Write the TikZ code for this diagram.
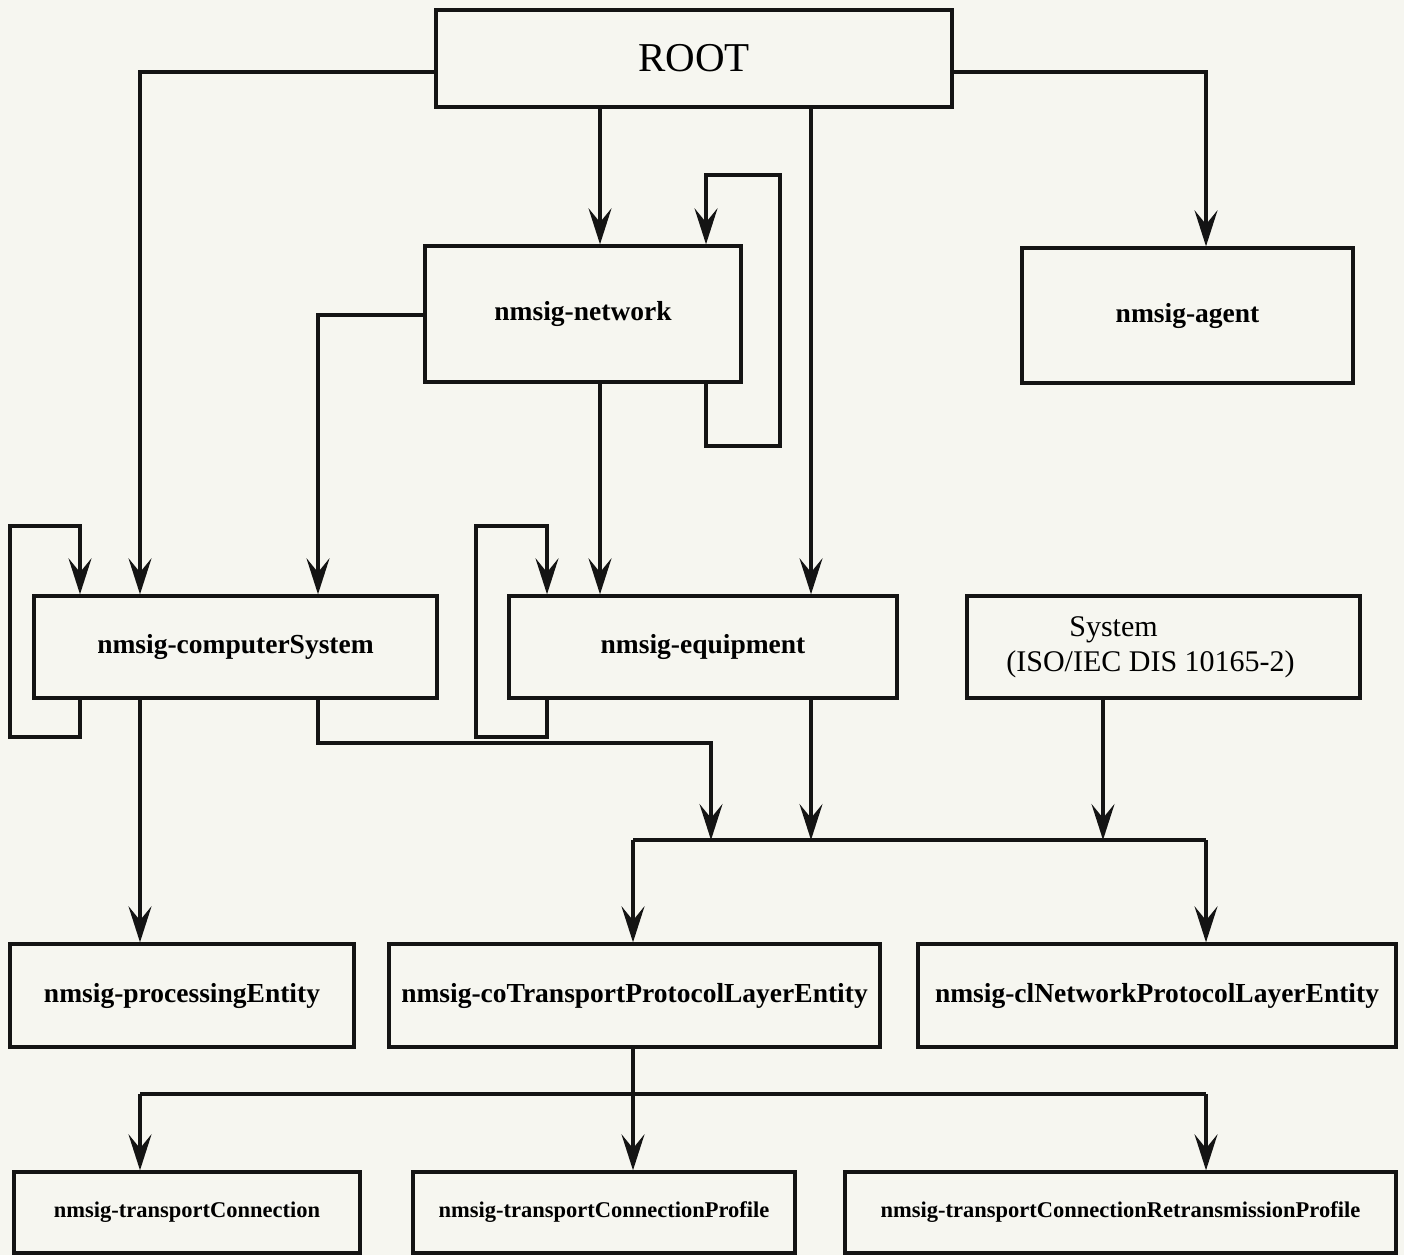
\documentclass[tikz,border=0pt]{standalone}
\usepackage{fontspec}
\setmainfont{Liberation Serif}
\usetikzlibrary{arrows.meta}
\definecolor{paper}{RGB}{246,246,240}
\definecolor{ink}{RGB}{20,20,20}
\begin{document}
\begin{tikzpicture}[x=1pt,y=-1pt,
  box/.style={draw=ink, line width=3.4pt, inner sep=0pt, align=center,
    font=\fontsize{27.5}{35}\selectfont\bfseries},
  rootbox/.style={box, font=\fontsize{41}{48}\selectfont},
  sysbox/.style={box, font=\fontsize{30}{35}\selectfont},
  smallbox/.style={box, font=\fontsize{22.5}{28}\selectfont\bfseries},
  wire/.style={draw=ink, line width=3.4pt},
  link/.style={wire, -{Stealth[length=36pt,width=23pt,inset=14pt]}},
]
% page
\fill[paper] (0,0) rectangle (1404,1255);
\useasboundingbox (0,0) rectangle (1404,1255);

% classes
\node[rootbox, minimum width=516pt, minimum height=97pt] (root) at (694,58.5) {ROOT};
\node[box, minimum width=316pt, minimum height=136pt] (net) at (583,314) {nmsig-network};
\node[box, minimum width=331pt, minimum height=135pt] (agent) at (1187.5,315.5) {nmsig-agent};
\node[box, minimum width=403pt, minimum height=102pt] (cs) at (235.5,647) {nmsig-computerSystem};
\node[box, minimum width=388pt, minimum height=102pt] (eq) at (703,647) {nmsig-equipment};
\node[sysbox, minimum width=393pt, minimum height=102pt, align=left] (sys) at (1163.5,647)
  {\hspace*{63pt}System\\(ISO/IEC DIS 10165-2)\hspace*{26pt}};
\node[box, minimum width=344pt, minimum height=103pt] (pe) at (182,995.5) {nmsig-processingEntity};
\node[box, minimum width=491pt, minimum height=103pt] (cot) at (634.5,995.5) {nmsig-coTransportProtocolLayerEntity};
\node[box, minimum width=478pt, minimum height=103pt] (cln) at (1157,995.5) {nmsig-clNetworkProtocolLayerEntity};
\node[smallbox, minimum width=346pt, minimum height=81pt] (tc) at (187,1212.5) {nmsig-transportConnection};
\node[smallbox, minimum width=382pt, minimum height=81pt] (tcp) at (604,1212.5) {nmsig-transportConnectionProfile};
\node[smallbox, minimum width=551pt, minimum height=81pt] (tcr) at (1120.5,1212.5) {nmsig-transportConnectionRetransmissionProfile};

% junction points
\coordinate (m1) at (711,840);
\coordinate (m2) at (811,840);
\coordinate (m3) at (1103,840);
\coordinate (busA) at (633,840);
\coordinate (busB) at (1206,840);
\coordinate (low) at (633,1094);
\coordinate (lowL) at (140,1094);
\coordinate (lowR) at (1206,1094);

% from ROOT
\draw[link] (root.west |- 0,72) -| (cs.north -| 140,0);
\draw[link] (root.east |- 0,72) -| (agent.north -| 1206,0);
\draw[link] (root.south -| 600,0) -- (net.north -| 600,0);
\draw[link] (root.south -| 811,0) -- (eq.north -| 811,0);

% from nmsig-network
\draw[link] (net.south -| 706,0) |- (780,446) |- (706,175) -- (net.north -| 706,0);
\draw[link] (net.west |- 0,315) -| (cs.north -| 318,0);
\draw[link] (net.south -| 600,0) -- (eq.north -| 600,0);

% recursive containment
\draw[link] (eq.south -| 547,0) |- (476,737) |- (547,526) -- (eq.north -| 547,0);
\draw[link] (cs.south -| 80,0) |- (10,737) |- (80,526) -- (cs.north -| 80,0);

% to the protocol layer entities
\draw[link] (cs.south -| 140,0) -- (pe.north -| 140,0);
\draw[link] (cs.south -| 318,0) |- (m1 |- 0,743) -- (m1);
\draw[link] (eq.south -| 811,0) -- (m2);
\draw[link] (sys.south -| 1103,0) -- (m3);
\draw[wire] (busA) -- (busB);
\draw[link] (busA) -- (cot.north -| busA);
\draw[link] (busB) -- (cln.north -| busB);

% to the transport connection classes
\draw[wire] (cot.south -| low) -- (low);
\draw[wire] (lowL) -- (lowR);
\draw[link] (lowL) -- (tc.north -| lowL);
\draw[link] (low) -- (tcp.north -| low);
\draw[link] (lowR) -- (tcr.north -| lowR);
\end{tikzpicture}
\end{document}
